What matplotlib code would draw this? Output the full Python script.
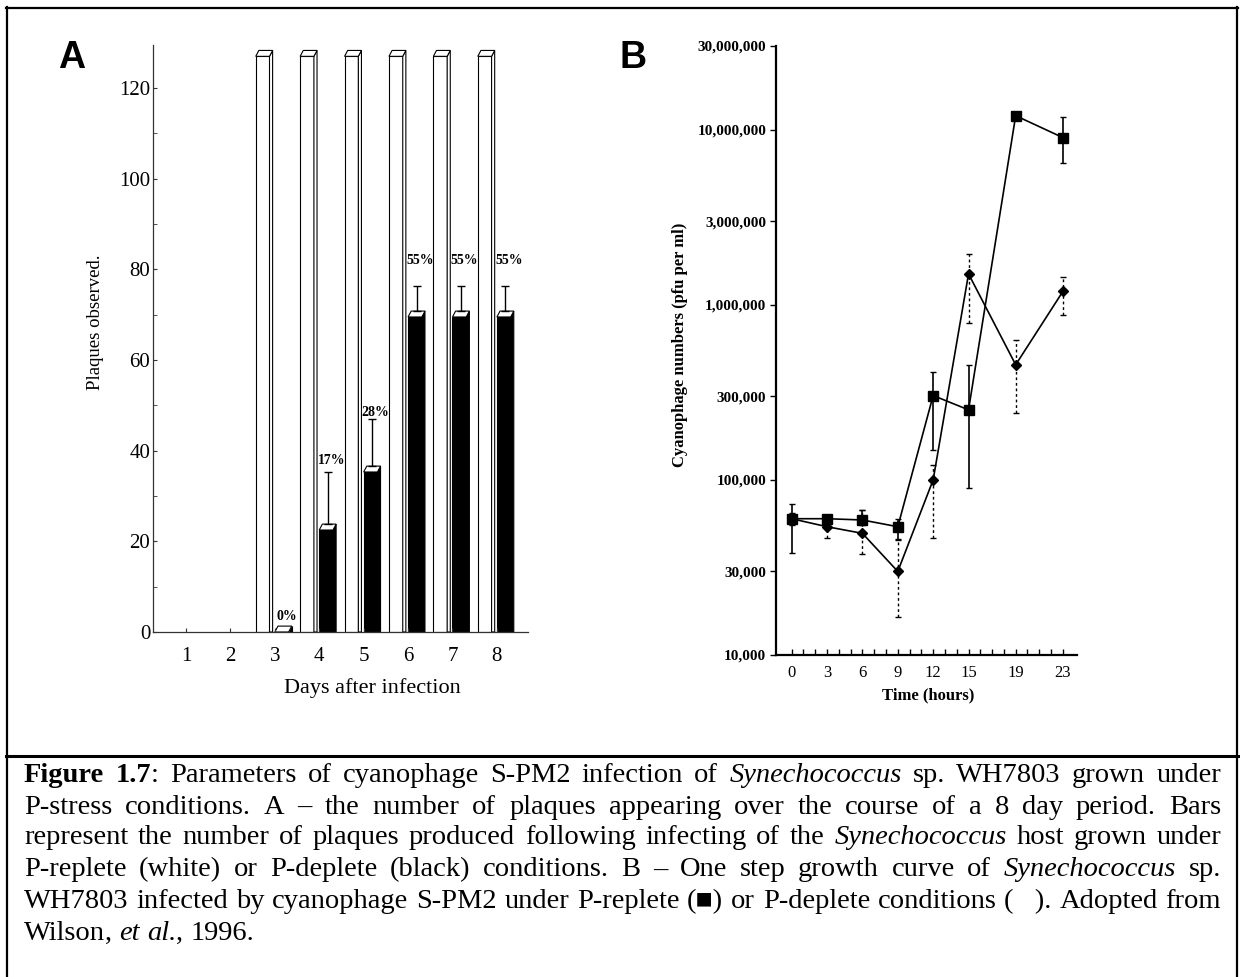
#libraries
import matplotlib
matplotlib.use("Agg")
import matplotlib.pyplot as plt
from matplotlib.patches import Polygon
from matplotlib.lines import Line2D
from matplotlib.ticker import NullLocator

plt.rcParams["font.family"] = ["Liberation Serif", "DejaVu Serif"]

#panel A data: plaques observed per day
days = [1, 2, 3, 4, 5, 6, 7, 8]
replete_plaques = [0, 0, 127, 127, 127, 127, 127, 127]      # white bars (off scale)
deplete_plaques = [0, 0, 0, 22.5, 35.3, 69.5, 69.5, 69.5]   # black bars
deplete_upper = [None, None, None, 35.4, 47.0, 76.4, 76.4, 76.4]
pct_labels = ["", "", "0%", "17%", "28%", "55%", "55%", "55%"]
pct_label_y = [0, 0, 2.0, 36.5, 47.0, 80.5, 80.5, 80.5]

#panel B data: one step growth curve
hours = [0, 3, 6, 9, 12, 15, 19, 23]
replete = [60000, 60000, 59000, 54000, 303000, 251000, 12000000, 9000000]
replete_low = [38000, 57000, 55000, 46000, 148000, 90000, 11500000, 6460000]
replete_high = [73000, 63000, 67500, 60000, 415000, 454000, 12500000, 11800000]
deplete = [60000, 54000, 49500, 30000, 100000, 1500000, 454000, 1190000]
deplete_low = [55000, 46400, 37800, 16400, 46400, 785000, 240000, 877000]
deplete_high = [65000, 57000, 67500, 45400, 121000, 1950000, 625000, 1440000]
b_yticks = [10000, 30000, 100000, 300000, 1000000, 3000000, 10000000, 30000000]

W, H = 1240, 977
fig = plt.figure(figsize=(W / 100, H / 100), dpi=100)

#----- panel A -----
axA = fig.add_axes([153 / W, 1 - 632 / H, (528 - 153) / W, (632 - 45) / H])
bw = 0.31      # front width of a bar
dx, dy = 0.07, 1.3   # 3d depth

def bar3d(ax, left, h, color):
    right = left + bw
    ax.add_patch(Polygon([(left, 0), (right, 0), (right, h), (left, h)], closed=True,
                         facecolor=color, edgecolor="black", lw=0.8))
    ax.add_patch(Polygon([(right, 0), (right + dx, 0), (right + dx, h + dy), (right, h)], closed=True,
                         facecolor=color, edgecolor="black", lw=0.8))
    ax.add_patch(Polygon([(left, h), (left + dx, h + dy), (right + dx, h + dy), (right, h)], closed=True,
                         facecolor="white", edgecolor="black", lw=0.8))

for d, hw, hb, up, lab, ly in zip(days, replete_plaques, deplete_plaques, deplete_upper, pct_labels, pct_label_y):
    if hw > 0:
        bar3d(axA, d - 0.43, hw, "white")
    if lab:
        bar3d(axA, d, hb, "black")
        axA.text(d + 0.27, ly, lab, ha="center", va="bottom", fontsize=10, fontweight="bold")
    if up is not None:
        axA.errorbar(d + 0.19, hb + dy, yerr=[[0], [up - hb - dy]], color="black", lw=1, capsize=3)

axA.set_xlim(0.257, 8.70)
axA.set_ylim(0, 129.5)
axA.set_xticks(days)
axA.set_yticks(range(0, 121, 20))
axA.set_yticks(range(10, 121, 20), minor=True)
axA.tick_params(axis="both", which="both", direction="in", length=3, color="#333", labelsize=15)
axA.tick_params(axis="y", pad=2)
axA.tick_params(axis="x", pad=11)
for s in ["top", "right"]:
    axA.spines[s].set_visible(False)
for s in ["left", "bottom"]:
    axA.spines[s].set_color("#333")
    axA.spines[s].set_linewidth(0.9)
fig.text(95 / W, 1 - 322 / H, "Plaques observed.", rotation=90, ha="center", va="center", fontsize=13.5)
fig.text(372 / W, 1 - 688 / H, "Days after infection", ha="center", va="center", fontsize=16)

#----- panel B -----
axB = fig.add_axes([776 / W, 1 - 655 / H, (1077 - 776) / W, (655 - 46) / H])
axB.set_yscale("log")
eb = axB.errorbar(hours, deplete,
                  yerr=[[v - l for v, l in zip(deplete, deplete_low)], [h - v for v, h in zip(deplete, deplete_high)]],
                  fmt="none", ecolor="black", elinewidth=1, capsize=2.5)
eb[2][0].set_linestyle((0, (2, 2)))
axB.plot(hours, deplete, color="black", lw=1.2, marker="D", markersize=5.5)
axB.errorbar(hours, replete,
             yerr=[[v - l for v, l in zip(replete, replete_low)], [h - v for v, h in zip(replete, replete_high)]],
             fmt="none", ecolor="black", elinewidth=1.2, capsize=2.5)
axB.plot(hours, replete, color="black", lw=1.2, marker="s", markersize=7.5)

axB.set_xlim(-1.33, 24.2)
axB.set_ylim(10000, 30000000)
axB.set_xticks(hours)
axB.set_xticks(range(24), minor=True)
axB.set_xticklabels([str(h) for h in hours], fontsize=12)
axB.set_yticks(b_yticks)
axB.set_yticklabels([f"{v:,}" for v in b_yticks], fontsize=11, fontweight="bold")
axB.yaxis.set_minor_locator(NullLocator())
axB.tick_params(axis="x", which="both", direction="in", length=4.5, width=1, pad=7)
axB.tick_params(axis="y", direction="out", length=4, width=1, pad=3)
for s in ["top", "right"]:
    axB.spines[s].set_visible(False)
for s in ["left", "bottom"]:
    axB.spines[s].set_linewidth(1.6)
fig.text(680 / W, 1 - 345 / H, "Cyanophage numbers (pfu per ml)", rotation=90, ha="center", va="center",
         fontsize=12, fontweight="bold")
fig.text(928 / W, 1 - 695 / H, "Time (hours)", ha="center", va="center", fontsize=12, fontweight="bold")

#panel letters
fig.text(72 / W, 1 - 58 / H, "A", ha="center", va="center", fontsize=27, fontweight="bold", family="Liberation Sans")
fig.text(633 / W, 1 - 58 / H, "B", ha="center", va="center", fontsize=27, fontweight="bold", family="Liberation Sans")

#frame
fig.add_artist(Line2D([6.5 / W, 6.5 / W], [0, 1 - 7 / H], color="black", lw=1.6))
fig.add_artist(Line2D([1237 / W, 1237 / W], [0, 1 - 7 / H], color="black", lw=1.6))
fig.add_artist(Line2D([6 / W, 1238 / W], [1 - 7.5 / H, 1 - 7.5 / H], color="black", lw=1.6))
fig.add_artist(Line2D([6 / W, 1238 / W], [1 - 756 / H, 1 - 756 / H], color="black", lw=2.2))

#caption, justified word by word
caption = [
    [("Figure 1.7", "bold"), (": Parameters of cyanophage S-PM2 infection of ", "normal"), ("Synechococcus", "italic"),
     (" sp. WH7803 grown under", "normal")],
    [("P-stress conditions. A \u2013 the number of plaques appearing over the course of a 8 day period. Bars", "normal")],
    [("represent the number of plaques produced following infecting of the ", "normal"), ("Synechococcus", "italic"),
     (" host grown under", "normal")],
    [("P-replete (white) or P-deplete (black) conditions. B \u2013 One step growth curve of ", "normal"),
     ("Synechococcus", "italic"), (" sp.", "normal")],
    [("WH7803 infected by cyanophage S-PM2 under P-replete (\u25a0) or P-deplete conditions (\u00a0\u00a0\u00a0). Adopted from",
      "normal")],
    [("Wilson", "normal"), (", ", "normal"), ("et al.", "italic"), (", 1996.", "normal")],
]
cap_y = [775, 807, 838, 870, 902, 933]
x0, x1 = 24, 1221
cap_size = 20.5

def words_of(line):
    words = [[]]
    for text, style in line:
        for i, p in enumerate(text.split(" ")):
            if i > 0:
                words.append([])
            if p:
                words[-1].append((p, style))
    return [w for w in words if w]

renderer = fig.canvas.get_renderer()

def style_kw(style):
    if style == "bold":
        return dict(fontweight="bold")
    if style == "italic":
        return dict(fontstyle="italic")
    return {}

for n, (line, yy) in enumerate(zip(caption, cap_y)):
    words = words_of(line)
    widths = []
    for w in words:
        tot = 0
        for p, st in w:
            t = fig.text(0, 0, p, fontsize=cap_size, **style_kw(st))
            tot += t.get_window_extent(renderer=renderer).width
            t.remove()
        widths.append(tot)
    if n < len(caption) - 1:
        gap = (x1 - x0 - sum(widths)) / (len(words) - 1)
    else:
        gap = cap_size * 100 / 72 * 0.25
    x = x0
    for w, wd in zip(words, widths):
        for p, st in w:
            t = fig.text(x / W, 1 - yy / H, p, fontsize=cap_size, va="center", ha="left", **style_kw(st))
            x += t.get_window_extent(renderer=renderer).width
        x += gap

plt.savefig("out.png", dpi=100)
